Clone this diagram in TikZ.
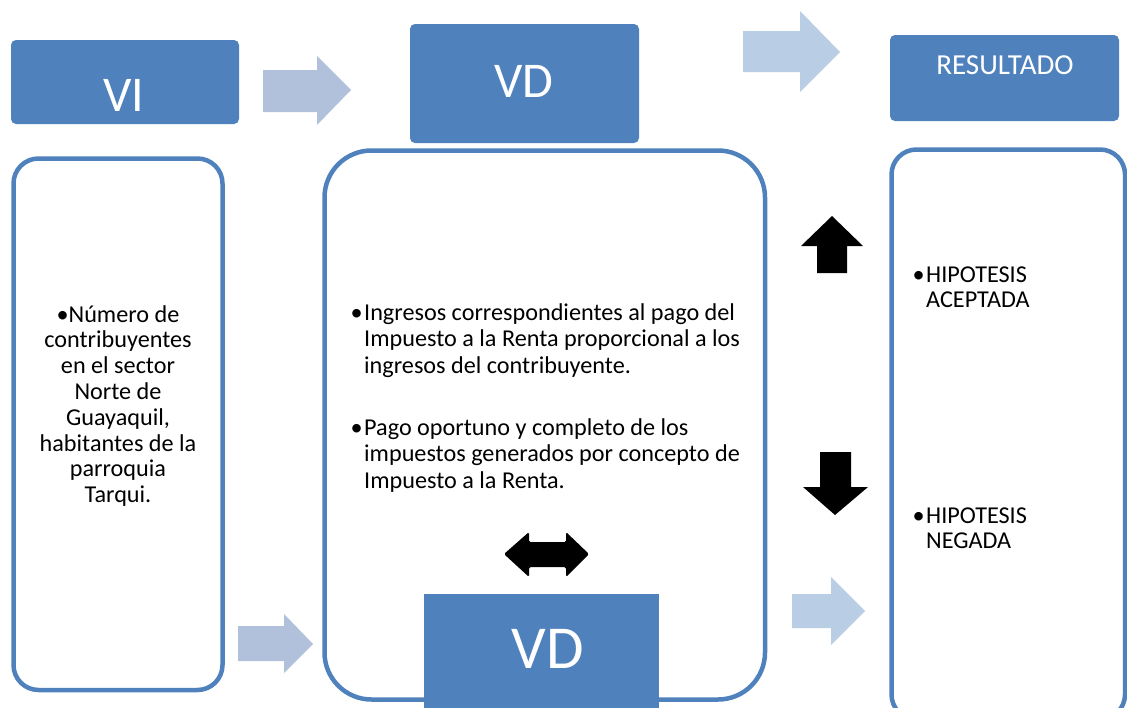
\documentclass[tikz,border=0pt]{standalone}
\usepackage{fontspec}
\setmainfont{Carlito}
\definecolor{accent}{HTML}{4F81BD}
\definecolor{lightA}{HTML}{B2C1DB}
\definecolor{lightB}{HTML}{B9CDE5}
\newcommand{\bul}{\llap{•\hspace{1.5pt}}}
\begin{document}
\begin{tikzpicture}[x=1pt,y=-1pt,
  fillbox/.style={fill=accent, rounded corners=5pt, inner sep=0pt, outer sep=0pt},
  outbox/.style={draw=accent, line width=4.5pt, inner sep=0pt, outer sep=0pt},
  head/.style={text=white, inner sep=0pt, anchor=base},
  body/.style={text=black, inner sep=0pt, font=\fontsize{24.2}{25.8}\selectfont},
  arrA/.style={fill=lightA},
  arrB/.style={fill=lightB},
  arrK/.style={fill=black}]
\useasboundingbox (0,0) rectangle (1127,707);
\clip (0,0) rectangle (1127,707);
% filled title boxes
\node[fillbox, minimum width=228pt, minimum height=84pt] (vi) at (125,82) {};
\node[fillbox, minimum width=229pt, minimum height=119pt] (vdtop) at (524.5,83.5) {};
\node[fillbox, minimum width=229pt, minimum height=86pt] (res) at (1004.5,78) {};
\node[head, font=\fontsize{50}{50}\selectfont] (vilab) at (124,111) {VI};
\node[head, font=\fontsize{50}{50}\selectfont] (vdtoplab) at (524,97) {VD};
\node[head, font=\fontsize{29}{29}\selectfont] (reslab) at (1005,74) {RESULTADO};
% outlined boxes
\node[outbox, rounded corners=25pt, minimum width=209pt, minimum height=531.5pt] (left) at (118,424.25) {};
\node[outbox, rounded corners=47pt, minimum width=440.5pt, minimum height=549pt] (mid) at (544.75,425) {};
\node[outbox, rounded corners=25pt, minimum width=233.5pt, minimum height=570pt] (right) at (1008.25,434.5) {};
% bottom VD box
\node[fill=accent, inner sep=0pt, minimum width=235pt, minimum height=118pt] (vdbot) at (541.5,653) {};
\node[head, font=\fontsize{61}{61}\selectfont] (vdbotlab) at (548,668) {VD};
% texts (base anchor = baseline of last line)
\node[body, anchor=base, align=center] (lefttext) at (118,502.6)
  {•Número de\\contribuyentes\\en el sector\\Norte de\\Guayaquil,\\habitantes de la\\parroquia\\Tarqui.};
\node[body, anchor=base west, align=left, font=\fontsize{24.2}{26.5}\selectfont] (midtextA) at (364,373)
  {\bul Ingresos correspondientes al pago del\\Impuesto a la Renta proporcional a los\\ingresos del contribuyente.};
\node[body, anchor=base west, align=left, font=\fontsize{24.2}{26.5}\selectfont] (midtextB) at (364,488)
  {\bul Pago oportuno y completo de los\\impuestos generados por concepto de\\Impuesto a la Renta.};
\node[body, anchor=base west, align=left, font=\fontsize{24.2}{25}\selectfont] (acc) at (926,307)
  {\bul HIPOTESIS\\ACEPTADA};
\node[body, anchor=base west, align=left, font=\fontsize{24.2}{25}\selectfont] (neg) at (926,548)
  {\bul HIPOTESIS\\NEGADA};
% block arrows
\fill[arrA] (263,70) -- (317,70) -- (317,56) -- (351,90) -- (317,125) -- (317,112) -- (263,112) -- cycle;
\fill[arrB] (743,31) -- (800,31) -- (800,11) -- (840,52) -- (800,92) -- (800,72) -- (743,72) -- cycle;
\fill[arrA] (238,626) -- (284,626) -- (284,614) -- (313,644) -- (284,673) -- (284,661) -- (238,661) -- cycle;
\fill[arrB] (792,594) -- (831,594) -- (831,577) -- (865,611) -- (831,645) -- (831,628) -- (792,628) -- cycle;
\fill[arrK] (817,273) -- (817,246) -- (801,246) -- (832,216) -- (863,246) -- (847,246) -- (847,273) -- cycle;
\fill[arrK] (820,452) -- (851,452) -- (851,487) -- (868,487) -- (835,515) -- (803,487) -- (820,487) -- cycle;
\fill[arrK, rounded corners=1.5pt] (504,554) -- (529,532) -- (529,542) -- (566,542) -- (566,532) -- (589,554) -- (566,577) -- (566,567) -- (529,567) -- (529,577) -- cycle;
\end{tikzpicture}
\end{document}
